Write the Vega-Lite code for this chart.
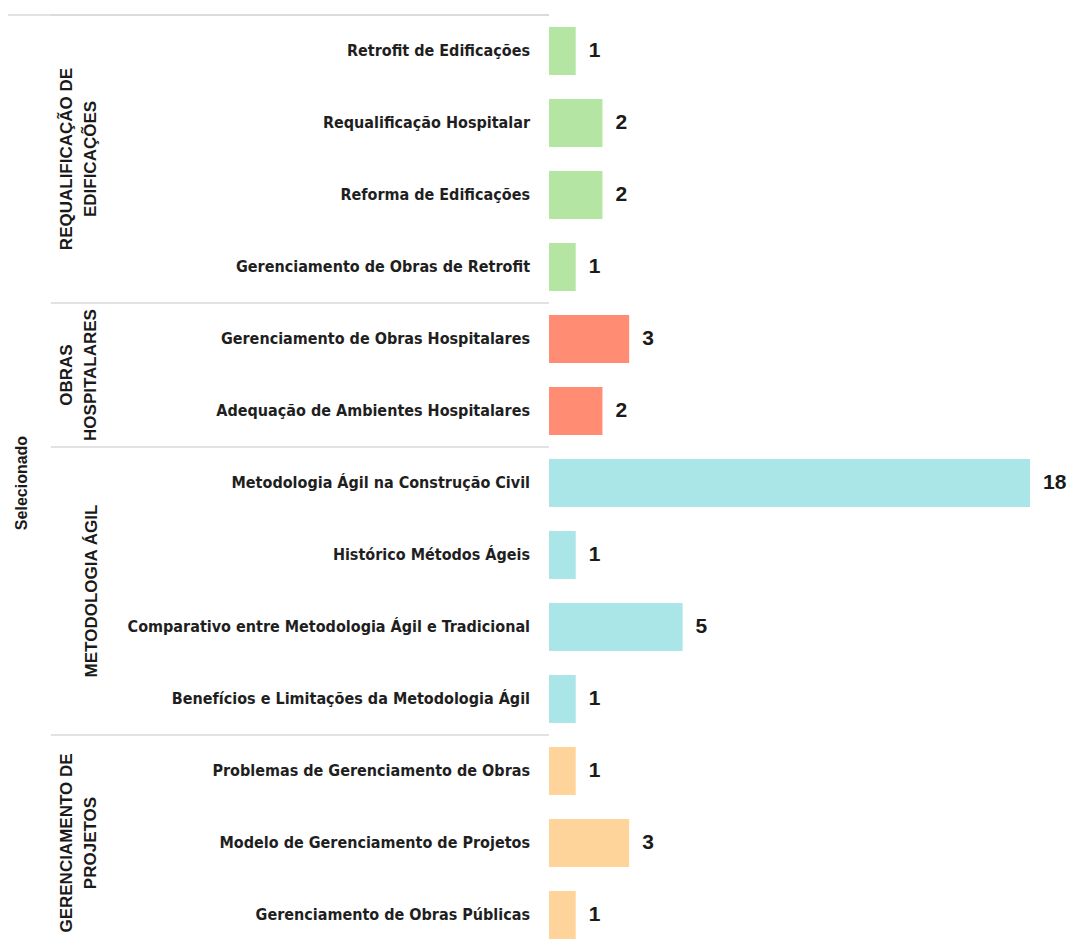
{
  "$schema": "https://vega.github.io/schema/vega-lite/v6.json",
  "width": 1072,
  "height": 929,
  "autosize": {"type": "none"},
  "padding": {"top": 15, "left": 0, "right": 0, "bottom": 0},
  "background": "white",
  "config": {"view": {"stroke": null}},
  "datasets": {
    "rows": [
      {"label": "Retrofit de Edificações", "group": "REQUALIFICAÇÃO DE EDIFICAÇÕES", "value": 1},
      {"label": "Requalificação Hospitalar", "group": "REQUALIFICAÇÃO DE EDIFICAÇÕES", "value": 2},
      {"label": "Reforma de Edificações", "group": "REQUALIFICAÇÃO DE EDIFICAÇÕES", "value": 2},
      {"label": "Gerenciamento de Obras de Retrofit", "group": "REQUALIFICAÇÃO DE EDIFICAÇÕES", "value": 1},
      {"label": "Gerenciamento de Obras Hospitalares", "group": "OBRAS HOSPITALARES", "value": 3},
      {"label": "Adequação de Ambientes Hospitalares", "group": "OBRAS HOSPITALARES", "value": 2},
      {"label": "Metodologia Ágil na Construção Civil", "group": "METODOLOGIA ÁGIL", "value": 18},
      {"label": "Histórico Métodos Ágeis", "group": "METODOLOGIA ÁGIL", "value": 1},
      {"label": "Comparativo entre Metodologia Ágil e Tradicional", "group": "METODOLOGIA ÁGIL", "value": 5},
      {"label": "Benefícios e Limitações da Metodologia Ágil", "group": "METODOLOGIA ÁGIL", "value": 1},
      {"label": "Problemas de Gerenciamento de Obras", "group": "GERENCIAMENTO DE PROJETOS", "value": 1},
      {"label": "Modelo de Gerenciamento de Projetos", "group": "GERENCIAMENTO DE PROJETOS", "value": 3},
      {"label": "Gerenciamento de Obras Públicas", "group": "GERENCIAMENTO DE PROJETOS", "value": 1}
    ],
    "groupsTwoLineMid": [
      {"title": "REQUALIFICAÇÃO DE\nEDIFICAÇÕES", "anchor": "Reforma de Edificações"},
      {"title": "OBRAS\nHOSPITALARES", "anchor": "Adequação de Ambientes Hospitalares"}
    ],
    "groupsOneLineMid": [
      {"title": "METODOLOGIA ÁGIL", "anchor": "Comparativo entre Metodologia Ágil e Tradicional"}
    ],
    "groupsTwoLineCenter": [
      {"title": "GERENCIAMENTO DE\nPROJETOS", "anchor": "Modelo de Gerenciamento de Projetos"}
    ],
    "axisTitle": [{"title": "Selecionado"}]
  },
  "data": {"name": "rows"},
  "encoding": {
    "y": {
      "field": "label",
      "type": "nominal",
      "sort": null,
      "axis": null,
      "scale": {
        "domain": [
          "Retrofit de Edificações", "Requalificação Hospitalar", "Reforma de Edificações", "Gerenciamento de Obras de Retrofit",
          "Gerenciamento de Obras Hospitalares", "Adequação de Ambientes Hospitalares",
          "Metodologia Ágil na Construção Civil", "Histórico Métodos Ágeis", "Comparativo entre Metodologia Ágil e Tradicional", "Benefícios e Limitações da Metodologia Ágil",
          "Problemas de Gerenciamento de Obras", "Modelo de Gerenciamento de Projetos", "Gerenciamento de Obras Públicas"
        ],
        "range": [0, 936],
        "paddingInner": 0,
        "paddingOuter": 0
      }
    }
  },
  "layer": [
    {
      "mark": {"type": "bar", "height": {"band": 0.667}},
      "encoding": {
        "x": {"field": "value", "type": "quantitative", "axis": null, "scale": {"domain": [-20.546, 19.573], "nice": false, "zero": false}},
        "color": {
          "field": "group", "type": "nominal", "legend": null,
          "scale": {
            "domain": ["REQUALIFICAÇÃO DE EDIFICAÇÕES", "OBRAS HOSPITALARES", "METODOLOGIA ÁGIL", "GERENCIAMENTO DE PROJETOS"],
            "range": ["#b5e5a2", "#ff8c73", "#aae5e8", "#ffd49b"]
          }
        }
      }
    },
    {
      "mark": {"type": "text", "align": "left", "baseline": "middle", "dx": 13, "font": "Liberation Sans", "fontWeight": "bold", "fontSize": 21, "color": "#1a1a1a"},
      "encoding": {
        "x": {"field": "value", "type": "quantitative"},
        "text": {"field": "value", "type": "quantitative"}
      }
    },
    {
      "mark": {"type": "text", "align": "right", "baseline": "middle", "font": "Liberation Sans Narrow, DejaVu Sans Condensed, sans-serif", "fontWeight": "bold", "fontSize": 16, "color": "#1f1f1f"},
      "encoding": {
        "x": {"datum": -0.71, "type": "quantitative"},
        "text": {"field": "label", "type": "nominal"}
      }
    },
    {
      "mark": {"type": "rule", "color": "#d9d9d9", "strokeWidth": 1.5},
      "encoding": {"x": {"datum": 0, "type": "quantitative"}}
    },
    {
      "transform": [
        {"window": [{"op": "row_number", "as": "rank"}], "groupby": ["group"]},
        {"filter": "datum.rank == 1"}
      ],
      "mark": {"type": "rule", "color": "#d9d9d9", "strokeWidth": 1.5},
      "encoding": {
        "y": {"field": "label", "type": "nominal", "bandPosition": 0},
        "x": {"datum": -18.64, "type": "quantitative"},
        "x2": {"datum": 0}
      }
    },
    {
      "transform": [{"filter": "datum.label == 'Retrofit de Edificações'"}],
      "mark": {"type": "rule", "color": "#d9d9d9", "strokeWidth": 1.5},
      "encoding": {
        "y": {"field": "label", "type": "nominal", "bandPosition": 0},
        "x": {"datum": -20.25, "type": "quantitative"},
        "x2": {"datum": 0}
      }
    },
    {
      "data": {"name": "groupsTwoLineMid"},
      "mark": {"type": "text", "angle": 270, "align": "center", "baseline": "middle", "lineBreak": "\n", "lineHeight": 24, "font": "Liberation Sans", "fontWeight": "bold", "fontSize": 17, "color": "#1a1a1a"},
      "encoding": {
        "y": {"field": "anchor", "type": "nominal", "bandPosition": 0},
        "x": {"datum": -18.04, "type": "quantitative"},
        "text": {"field": "title", "type": "nominal"}
      }
    },
    {
      "data": {"name": "groupsOneLineMid"},
      "mark": {"type": "text", "angle": 270, "align": "center", "baseline": "middle", "font": "Liberation Sans", "fontWeight": "bold", "fontSize": 17, "color": "#1a1a1a"},
      "encoding": {
        "y": {"field": "anchor", "type": "nominal", "bandPosition": 0},
        "x": {"datum": -17.1, "type": "quantitative"},
        "text": {"field": "title", "type": "nominal"}
      }
    },
    {
      "data": {"name": "groupsTwoLineCenter"},
      "mark": {"type": "text", "angle": 270, "align": "center", "baseline": "middle", "lineBreak": "\n", "lineHeight": 24, "font": "Liberation Sans", "fontWeight": "bold", "fontSize": 17, "color": "#1a1a1a"},
      "encoding": {
        "y": {"field": "anchor", "type": "nominal", "bandPosition": 0.5},
        "x": {"datum": -18.04, "type": "quantitative"},
        "text": {"field": "title", "type": "nominal"}
      }
    },
    {
      "data": {"name": "axisTitle"},
      "mark": {"type": "text", "angle": 270, "align": "center", "baseline": "middle", "font": "Liberation Sans", "fontWeight": "bold", "fontSize": 16, "color": "#1a1a1a"},
      "encoding": {
        "y": {"datum": "Metodologia Ágil na Construção Civil", "type": "nominal", "bandPosition": 0.5},
        "x": {"datum": -19.72, "type": "quantitative"},
        "text": {"field": "title", "type": "nominal"}
      }
    }
  ]
}
